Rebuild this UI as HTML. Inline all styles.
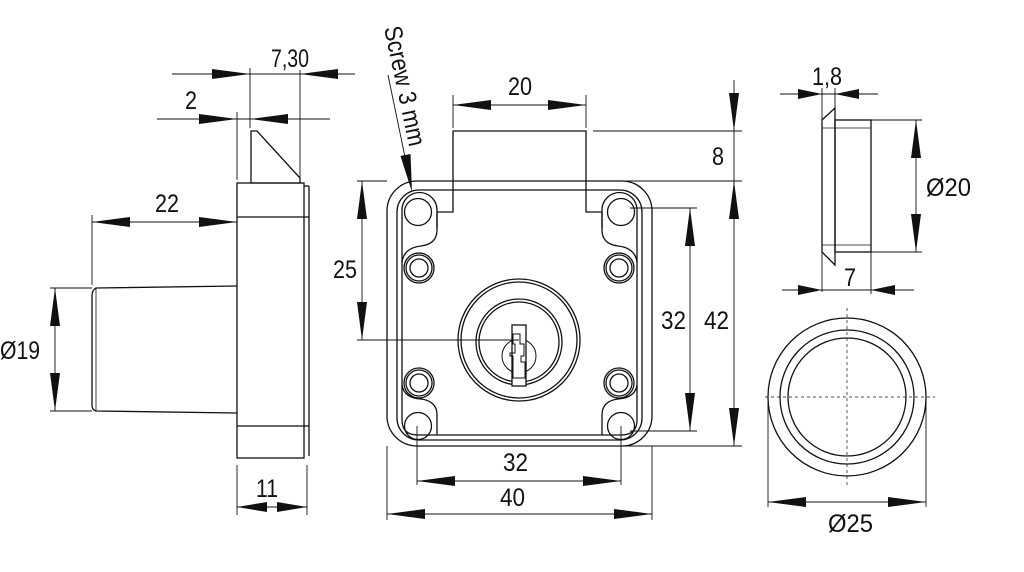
<!DOCTYPE html>
<html><head><meta charset="utf-8"><style>
html,body{margin:0;padding:0;background:#fff;}
svg{display:block;}
text{font-family:"Liberation Sans",sans-serif;font-size:25px;fill:#111;}
</style></head><body>
<svg width="1024" height="572" viewBox="0 0 1024 572" xmlns="http://www.w3.org/2000/svg">
<g fill="none" stroke="#111" stroke-width="1.3">
<polygon points="251,183 251,131 257,131 300,178 300,183"/>
<rect x="237" y="183" width="67" height="275"/>
<line x1="309" y1="186" x2="309" y2="456"/>
<line x1="304" y1="186" x2="309" y2="186"/>
<line x1="237" y1="217" x2="309" y2="217"/>
<line x1="237" y1="426" x2="309" y2="426"/>
<path d="M237,286 L96,288 Q92,290 92,296 V405 Q92,410 96,411 L237,413"/>
<line x1="96" y1="288" x2="96" y2="411" stroke-width="0.8"/>
<rect x="387" y="181" width="265" height="265" rx="30"/>
<rect x="397" y="190" width="245" height="250" rx="22"/>
<path d="M453,181 V131 H586 V181"/>
<path d="M453,181 V212 H437 M586,181 V212 H602"/>
<path d="M437,228 V210 A17.5,17.5 0 0 0 402,210 V420 Q402,435 418,435 H621 Q637,435 637,420 V210 A17.5,17.5 0 0 0 602,210 V228"/>
<path d="M437,212 V230 Q437,244 421,246 Q404,248 402,262"/>
<path d="M602,212 V230 Q602,244 618,246 Q635,248 637,262"/>
<path d="M402,385 Q404,398 421,399 Q437,401 437,415 V435"/>
<path d="M637,385 Q635,398 618,399 Q602,401 602,415 V435"/>
<circle cx="418" cy="212" r="13.5"/>
<circle cx="621" cy="212" r="13.5"/>
<circle cx="418" cy="426" r="13.5"/>
<circle cx="621" cy="426" r="13.5"/>
<g>
<circle cx="419" cy="268" r="15"/><circle cx="419" cy="268" r="13"/><circle cx="419" cy="268" r="9"/>
<circle cx="619" cy="268" r="15"/><circle cx="619" cy="268" r="13"/><circle cx="619" cy="268" r="9"/>
<circle cx="419" cy="383" r="15"/><circle cx="419" cy="383" r="13"/><circle cx="419" cy="383" r="9"/>
<circle cx="619" cy="383" r="15"/><circle cx="619" cy="383" r="13"/><circle cx="619" cy="383" r="9"/>
</g>
<circle cx="519" cy="340" r="61"/>
<circle cx="519" cy="340" r="58"/>
<circle cx="519" cy="342" r="43"/>
<circle cx="519" cy="342" r="40"/>
<circle cx="519" cy="356" r="17" stroke-width="1"/>
<rect x="512" y="325" width="14" height="61" fill="#fff"/>
<path d="M513,334 H520 V344 H524 V356 H521 V362 H525 V378 H513 V356 H510 V353 H515 V344 H513 Z" stroke-width="1"/>
<path d="M822,120 L835,108 V265 L822,252 Z"/>
<rect x="835" y="120" width="36" height="132"/>
<line x1="822" y1="128" x2="871" y2="128" stroke-width="0.8"/>
<line x1="822" y1="245" x2="871" y2="245" stroke-width="0.8"/>
<circle cx="847" cy="397" r="79"/>
<circle cx="847" cy="397" r="67"/>
<circle cx="847" cy="397" r="59"/>
</g>
<g fill="none" stroke="#111" stroke-width="0.9">
<line x1="172" y1="74" x2="355" y2="74"/>
<line x1="157" y1="119" x2="330" y2="119"/>
<line x1="250" y1="68" x2="250" y2="128"/>
<line x1="300" y1="70" x2="300" y2="178"/>
<line x1="237" y1="112" x2="237" y2="180"/>
<line x1="92" y1="222" x2="237" y2="222"/>
<line x1="92" y1="215" x2="92" y2="285"/>
<line x1="50" y1="288" x2="92" y2="288"/>
<line x1="50" y1="411" x2="92" y2="411"/>
<line x1="55" y1="288" x2="55" y2="411"/>
<line x1="237" y1="465" x2="237" y2="515"/>
<line x1="307" y1="465" x2="307" y2="515"/>
<line x1="237" y1="507" x2="307" y2="507"/>
<line x1="453" y1="95" x2="453" y2="128"/>
<line x1="586" y1="95" x2="586" y2="128"/>
<line x1="453" y1="105" x2="586" y2="105"/>
<line x1="593" y1="131" x2="742" y2="131"/>
<line x1="590" y1="181" x2="742" y2="181"/>
<line x1="600" y1="446" x2="742" y2="446"/>
<line x1="734" y1="80" x2="734" y2="446"/>
<line x1="630" y1="208" x2="697" y2="208"/>
<line x1="630" y1="431" x2="697" y2="431"/>
<line x1="690" y1="208" x2="690" y2="431"/>
<line x1="357" y1="181" x2="387" y2="181"/>
<line x1="357" y1="340" x2="519" y2="340"/>
<line x1="362" y1="181" x2="362" y2="340"/>
<line x1="417" y1="426" x2="417" y2="485"/>
<line x1="621" y1="426" x2="621" y2="485"/>
<line x1="417" y1="481" x2="621" y2="481"/>
<line x1="387" y1="446" x2="387" y2="520"/>
<line x1="652" y1="446" x2="652" y2="520"/>
<line x1="387" y1="514" x2="652" y2="514"/>
<line x1="388" y1="75" x2="411" y2="186"/>
<line x1="780" y1="94" x2="878" y2="94"/>
<line x1="822" y1="88" x2="822" y2="292"/>
<line x1="835" y1="88" x2="835" y2="108"/>
<line x1="871" y1="120" x2="922" y2="120"/>
<line x1="871" y1="252" x2="922" y2="252"/>
<line x1="916" y1="120" x2="916" y2="252"/>
<line x1="871" y1="252" x2="871" y2="294"/>
<line x1="782" y1="290" x2="914" y2="290"/>
<line x1="768" y1="397" x2="768" y2="507"/>
<line x1="926" y1="397" x2="926" y2="507"/>
<line x1="768" y1="502" x2="926" y2="502"/>
<g stroke-dasharray="3,3" stroke-width="0.7">
<line x1="765" y1="397" x2="935" y2="397"/>
<line x1="847" y1="308" x2="847" y2="485"/>
</g>
</g>
<g fill="#111">
<polygon points="250,74 212,69 212,79"/>
<polygon points="300,74 338,69 338,79"/>
<polygon points="237,119 199,114 199,124"/>
<polygon points="250,119 288,114 288,124"/>
<polygon points="92,222 130,217 130,227"/>
<polygon points="237,222 199,217 199,227"/>
<polygon points="55,288 50,326 60,326"/>
<polygon points="55,411 50,373 60,373"/>
<polygon points="237,507 267,502 267,512"/>
<polygon points="307,507 277,502 277,512"/>
<polygon points="453,105 491,100 491,110"/>
<polygon points="586,105 548,100 548,110"/>
<polygon points="734,131 729,93 739,93"/>
<polygon points="734,181 729,219 739,219"/>
<polygon points="734,446 729,408 739,408"/>
<polygon points="690,208 685,246 695,246"/>
<polygon points="690,431 685,393 695,393"/>
<polygon points="362,181 357,219 367,219"/>
<polygon points="362,340 357,302 367,302"/>
<polygon points="417,481 455,476 455,486"/>
<polygon points="621,481 583,476 583,486"/>
<polygon points="387,514 425,509 425,519"/>
<polygon points="652,514 614,509 614,519"/>
<polygon points="412,192 410.5,154 400.5,156"/>
<polygon points="822,94 798,89 798,99"/>
<polygon points="835,94 859,89 859,99"/>
<polygon points="916,120 911,158 921,158"/>
<polygon points="916,252 911,214 921,214"/>
<polygon points="822,290 798,285 798,295"/>
<polygon points="871,290 895,285 895,295"/>
<polygon points="768,502 806,497 806,507"/>
<polygon points="926,502 888,497 888,507"/>
</g>
<text x="271" y="67" textLength="38" lengthAdjust="spacingAndGlyphs">7,30</text>
<text x="185" y="109" textLength="12" lengthAdjust="spacingAndGlyphs">2</text>
<text x="155" y="212" textLength="24" lengthAdjust="spacingAndGlyphs">22</text>
<text x="0" y="359" textLength="40" lengthAdjust="spacingAndGlyphs">Ø19</text>
<text x="256" y="497" textLength="22" lengthAdjust="spacingAndGlyphs">11</text>
<text x="384" y="28" transform="rotate(78 384 28)" textLength="122" lengthAdjust="spacingAndGlyphs">Screw  3 mm</text>
<text x="508" y="95" textLength="24" lengthAdjust="spacingAndGlyphs">20</text>
<text x="712" y="165" textLength="12" lengthAdjust="spacingAndGlyphs">8</text>
<text x="704" y="329" textLength="25" lengthAdjust="spacingAndGlyphs">42</text>
<text x="661" y="329" textLength="25" lengthAdjust="spacingAndGlyphs">32</text>
<text x="333" y="278" textLength="24" lengthAdjust="spacingAndGlyphs">25</text>
<text x="503" y="471" textLength="25" lengthAdjust="spacingAndGlyphs">32</text>
<text x="500" y="506" textLength="25" lengthAdjust="spacingAndGlyphs">40</text>
<text x="812" y="85" textLength="30" lengthAdjust="spacingAndGlyphs">1,8</text>
<text x="926" y="196" textLength="45" lengthAdjust="spacingAndGlyphs">Ø20</text>
<text x="844" y="286" textLength="12" lengthAdjust="spacingAndGlyphs">7</text>
<text x="828" y="532" textLength="45" lengthAdjust="spacingAndGlyphs">Ø25</text>
</svg>
</body></html>
